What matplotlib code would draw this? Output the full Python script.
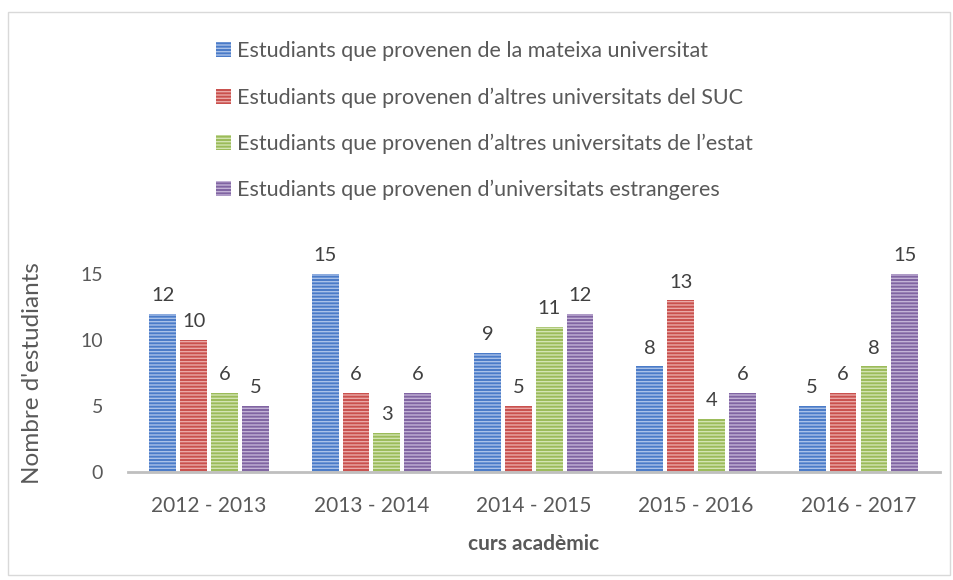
import matplotlib.pyplot as plt
import numpy as np
from matplotlib.patches import Rectangle

cursos = ['2012 - 2013', '2013 - 2014', '2014 - 2015', '2015 - 2016', '2016 - 2017']
series = ['Estudiants que provenen de la mateixa universitat',
          'Estudiants que provenen d\u2019altres universitats del SUC',
          'Estudiants que provenen d\u2019altres universitats de l\u2019estat',
          'Estudiants que provenen d\u2019universitats estrangeres']
mateixa = [12, 15, 9, 8, 5]
suc = [10, 6, 5, 13, 6]
estat = [6, 3, 11, 4, 8]
estrangeres = [5, 6, 12, 6, 15]

colors = ['#4a7bc8', '#c9504d', '#9bbb59', '#8064a2']
stripes = ['#a9c1e8', '#eaa8a6', '#d3e4b2', '#c3b2d6']

plt.rcParams['font.family'] = ['Lato', 'DejaVu Sans']
plt.rcParams['hatch.linewidth'] = 1.0

fig = plt.figure(figsize=(9.54, 5.8), dpi=100)
ax = fig.add_axes([0.134, 0.186, 0.851, 0.387])

x = np.arange(len(cursos))
w = 0.165
step = 0.19
data = [mateixa, suc, estat, estrangeres]
for i, vals in enumerate(data):
    pos = x + (i - 1.5) * step
    bars = ax.bar(pos, vals, w, color=colors[i], edgecolor=stripes[i], linewidth=0,
                  hatch='-----', label=series[i])
    for b, v in zip(bars, vals):
        ax.text(b.get_x() + b.get_width() / 2, v + 0.75, str(v), ha='center', va='bottom',
                fontsize=14.5, color='#404040')

ax.set_xlim(-0.5, 4.5)
ax.set_ylim(0, 17)
ax.set_yticks([0, 5, 10, 15])
ax.set_xticks(x)
ax.set_xticklabels(cursos)
ax.tick_params(axis='both', length=0, labelsize=14, colors='#595959')
ax.tick_params(axis='x', labelsize=15, pad=17)
ax.tick_params(axis='y', pad=18)
for s in ['top', 'right', 'left']:
    ax.spines[s].set_visible(False)
ax.spines['bottom'].set_color('#bfbfbf')
ax.spines['bottom'].set_linewidth(2)
ax.set_ylabel("Nombre d'estudiants", fontsize=17.5, color='#595959')
ax.yaxis.set_label_coords(-0.105, 0.44)
ax.set_xlabel('curs acadèmic', fontsize=15, color='#595959', fontweight='bold', labelpad=13)

fig.legend(loc='upper left', bbox_to_anchor=(0.206, 0.962), frameon=False, fontsize=15.5,
           labelcolor='#595959', handlelength=0.7, handleheight=0.7, handletextpad=0.3,
           labelspacing=1.2)

fig.patches.append(Rectangle((0.008, 0.008), 0.988, 0.972, transform=fig.transFigure,
                             fill=False, edgecolor='#d9d9d9', linewidth=1))

fig.savefig('out.png', dpi=100)
